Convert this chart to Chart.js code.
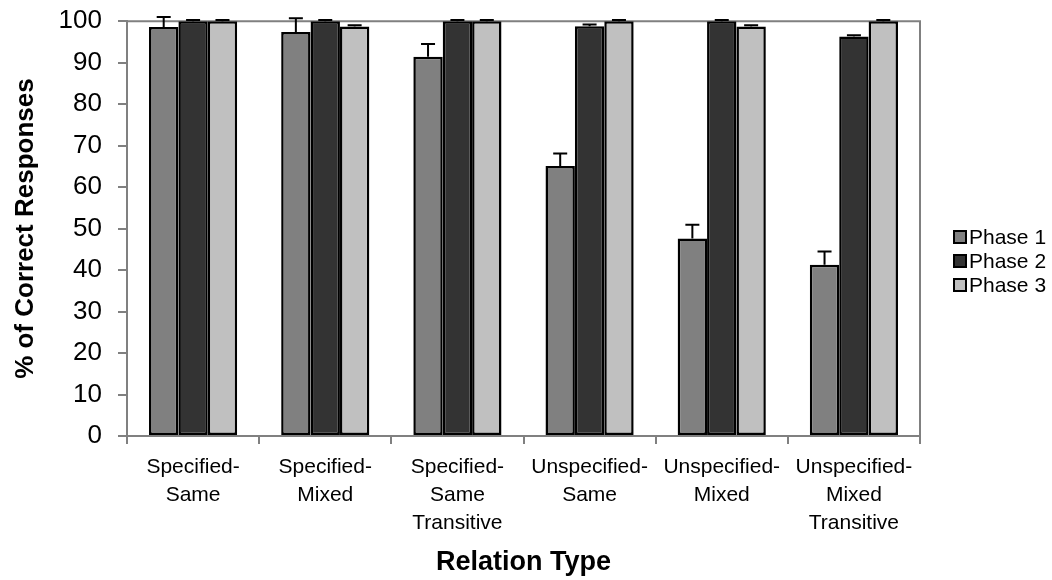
<!DOCTYPE html>
<html>
<head>
    <title>% of Correct Responses by Relation Type</title>
    <script src="https://cdn.jsdelivr.net/npm/chart.js"></script>
    <style>
        html, body { margin: 0; padding: 0; background: #ffffff; }
        #wrap { width: 1052px; height: 580px; position: relative; }
    </style>
</head>
<body>
    <div id="wrap"><canvas id="chart"></canvas></div>

    <script>
        // categories (multi-line labels)
        const categories = [
            ["Specified-", "Same"],
            ["Specified-", "Mixed"],
            ["Specified-", "Same", "Transitive"],
            ["Unspecified-", "Same"],
            ["Unspecified-", "Mixed"],
            ["Unspecified-", "Mixed", "Transitive"]
        ];
        const seriesNames = ["Phase 1", "Phase 2", "Phase 3"];

        // mean % correct
        const phase1 = [98.6, 97.4, 91.4, 65.1, 47.6, 41.3];
        const phase2 = [100, 100, 100, 98.8, 100, 96.3];
        const phase3 = [100, 98.7, 100, 100, 98.7, 100];

        // upper error bars
        const err1 = [2.4, 3.3, 3.1, 3.0, 3.3, 3.2];
        const err2 = [0.3, 0.3, 0.3, 0.4, 0.3, 0.3];
        const err3 = [0.3, 0.3, 0.3, 0.3, 0.3, 0.3];

        const yTicks = [0, 10, 20, 30, 40, 50, 60, 70, 80, 90, 100];

        const fills = ["#808080", "#333333", "#c0c0c0"];
        const errors = [err1, err2, err3];
        const FONT = "Arial, 'Liberation Sans', sans-serif";

        // draws the upward error bars from the bar tops
        const errorBars = {
            id: "errorBars",
            afterDatasetsDraw(chart) {
                const ctx = chart.ctx;
                const y = chart.scales.y;
                ctx.save();
                ctx.strokeStyle = "#000";
                ctx.lineWidth = 2;
                chart.data.datasets.forEach((ds, i) => {
                    const meta = chart.getDatasetMeta(i);
                    meta.data.forEach((bar, j) => {
                        const top = y.getPixelForValue(ds.data[j] + errors[i][j]);
                        ctx.beginPath();
                        ctx.moveTo(bar.x, bar.y);
                        ctx.lineTo(bar.x, top);
                        ctx.moveTo(bar.x - 7, top);
                        ctx.lineTo(bar.x + 7, top);
                        ctx.stroke();
                    });
                });
                ctx.restore();
            }
        };

        // grey frame on top / right of plot area, and the legend
        const frameAndLegend = {
            id: "frameAndLegend",
            beforeDatasetsDraw(chart) {
                const ctx = chart.ctx;
                const a = chart.chartArea;
                ctx.save();
                ctx.strokeStyle = "#808080";
                ctx.lineWidth = 2;
                ctx.beginPath();
                ctx.moveTo(a.left, a.top);
                ctx.lineTo(a.right, a.top);
                ctx.lineTo(a.right, a.bottom);
                ctx.stroke();
                ctx.restore();
            },
            afterDraw(chart) {
                const ctx = chart.ctx;
                ctx.save();
                ctx.font = "21px " + FONT;
                ctx.textBaseline = "middle";
                ctx.textAlign = "left";
                chart.data.datasets.forEach((ds, i) => {
                    const cy = 237 + i * 24;
                    ctx.fillStyle = ds.backgroundColor;
                    ctx.fillRect(954, cy - 6, 12, 12);
                    ctx.strokeStyle = "#000";
                    ctx.lineWidth = 2;
                    ctx.strokeRect(954, cy - 6, 12, 12);
                    ctx.fillStyle = "#000";
                    ctx.fillText(ds.label, 969, cy + 1);
                });
                ctx.restore();
            }
        };

        const datasets = [phase1, phase2, phase3].map((d, i) => ({
            label: seriesNames[i],
            data: d,
            backgroundColor: fills[i],
            borderColor: "#000",
            borderWidth: 2.5,
            borderSkipped: false,
            categoryPercentage: 0.667,
            barPercentage: 1.0
        }));

        new Chart(document.getElementById("chart"), {
            type: "bar",
            data: { labels: categories, datasets: datasets },
            options: {
                responsive: true,
                maintainAspectRatio: false,
                animation: false,
                layout: { padding: { top: 20, right: 132, left: 0, bottom: 0 } },
                plugins: { legend: { display: false }, tooltip: { enabled: false } },
                scales: {
                    x: {
                        grid: { drawOnChartArea: false, drawTicks: true, tickLength: 8, color: "#808080", lineWidth: 2, offset: true },
                        border: { display: true, color: "#808080", width: 2 },
                        ticks: { color: "#000", padding: 9, maxRotation: 0, autoSkip: false,
                                 font: { family: FONT, size: 21, lineHeight: 1.33 } },
                        title: { display: true, text: "Relation Type", color: "#000",
                                 font: { family: FONT, size: 27, weight: "bold", lineHeight: 1.2 },
                                 padding: { top: 0, bottom: 1 } },
                        afterFit: s => { s.height = 144; }
                    },
                    y: {
                        min: 0, max: 100,
                        afterBuildTicks: s => { s.ticks = yTicks.map(v => ({ value: v })); },
                        grid: { drawOnChartArea: false, drawTicks: true, tickLength: 9, color: "#808080", lineWidth: 2 },
                        border: { display: true, color: "#808080", width: 2 },
                        ticks: { color: "#000", padding: 16, font: { family: FONT, size: 26, lineHeight: 0.4 } },
                        title: { display: true, text: "% of Correct Responses", color: "#000",
                                 font: { family: FONT, size: 26, weight: "bold", lineHeight: 1.2 },
                                 padding: { top: 10, bottom: 0 } },
                        afterFit: s => { s.width = 127; }
                    }
                }
            },
            plugins: [errorBars, frameAndLegend]
        });
    </script>
</body>
</html>
